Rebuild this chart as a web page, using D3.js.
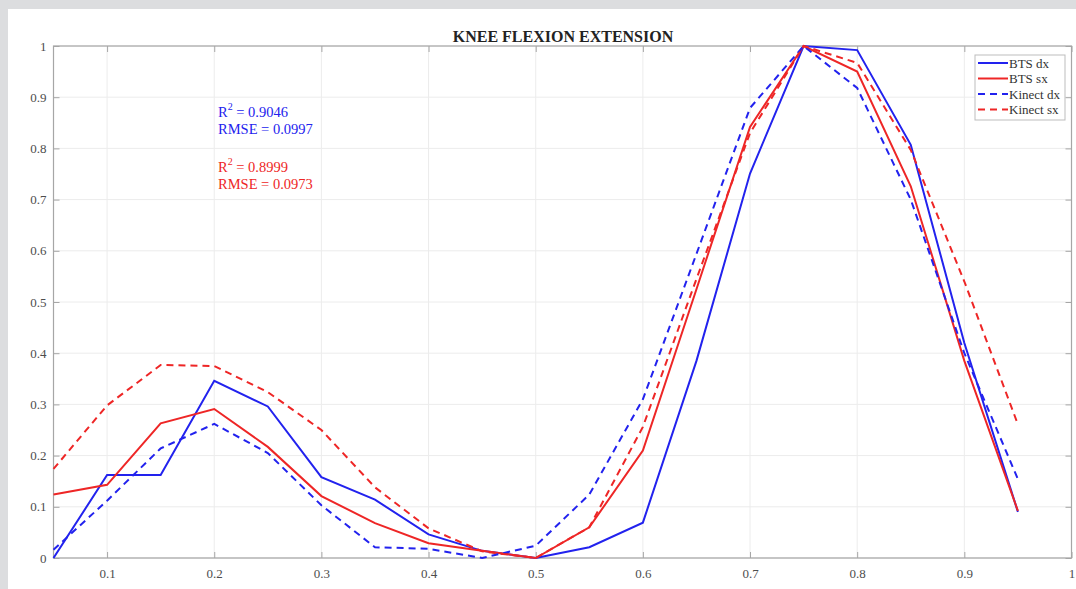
<!DOCTYPE html>
<html>
<head>
<meta charset="utf-8">
<script src="https://cdn.jsdelivr.net/npm/d3@7"></script>
<style>
  body { margin: 0; background: #dcdddf; }
  svg { display: block; }
</style>
</head>
<body>
<script>
// Data

var gaitCycle = [0.05, 0.1, 0.15, 0.2, 0.25, 0.3, 0.35, 0.4, 0.45, 0.5,
  0.55, 0.6, 0.65, 0.7, 0.75, 0.8, 0.85, 0.9, 0.95];

var btsDx = [0, 0.162, 0.162, 0.346, 0.296, 0.158, 0.114, 0.046, 0.014, 0,
  0.021, 0.069, 0.385, 0.751, 1, 0.992, 0.807, 0.42, 0.09];
var btsSx = [0.124, 0.143, 0.263, 0.291, 0.217, 0.121, 0.068, 0.029, 0.014, 0,
  0.06, 0.21, 0.525, 0.842, 1, 0.95, 0.726, 0.385, 0.092];
var kinectDx = [0.016, 0.112, 0.214, 0.262, 0.205, 0.103, 0.021, 0.018, 0, 0.024,
  0.124, 0.31, 0.594, 0.879, 1, 0.918, 0.7, 0.4, 0.154];
var kinectSx = [0.174, 0.298, 0.377, 0.375, 0.324, 0.25, 0.138, 0.058, 0.013, 0,
  0.06, 0.256, 0.545, 0.83, 1, 0.967, 0.797, 0.54, 0.261];

var seriesNames = ["BTS dx", "BTS sx", "Kinect dx", "Kinect sx"];
var xTicks = [0.1, 0.2, 0.3, 0.4, 0.5, 0.6, 0.7, 0.8, 0.9, 1];
var yTicks = [0, 0.1, 0.2, 0.3, 0.4, 0.5, 0.6, 0.7, 0.8, 0.9, 1];

var blue = "#2222ee";
var red = "#ee2626";

var series = [
  { name: seriesNames[0], values: btsDx, color: blue, dash: null },
  { name: seriesNames[1], values: btsSx, color: red, dash: null },
  { name: seriesNames[2], values: kinectDx, color: blue, dash: "7,5" },
  { name: seriesNames[3], values: kinectSx, color: red, dash: "7,5" }
];

var w = 1076;
var h = 589;
var font = "'Liberation Serif', 'Times New Roman', serif";

/*
-----SVG-----
*/
var svg = d3.select("body")
  .append("svg")
  .attr("width", w)
  .attr("height", h);

svg.append("rect")
  .attr("x", 8)
  .attr("y", 9)
  .attr("width", w - 8)
  .attr("height", h - 9)
  .attr("fill", "#fff");

var plotL = 53.5, plotR = 1071.5, plotT = 46, plotB = 558;

var x = d3.scaleLinear().domain([0.05, 1]).range([plotL, plotR]);
var y = d3.scaleLinear().domain([0, 1]).range([plotB, plotT]);

/*
----Grid----
*/
svg.append("g")
  .selectAll("line")
  .data(xTicks)
  .enter()
  .append("line")
  .attr("x1", function(d) { return x(d); })
  .attr("x2", function(d) { return x(d); })
  .attr("y1", plotT)
  .attr("y2", plotB)
  .attr("stroke", "#ececec");

svg.append("g")
  .selectAll("line")
  .data(yTicks)
  .enter()
  .append("line")
  .attr("x1", plotL)
  .attr("x2", plotR)
  .attr("y1", function(d) { return y(d); })
  .attr("y2", function(d) { return y(d); })
  .attr("stroke", "#ececec");

/*
----Axes----
*/
function styleAxis(g) {
  g.select(".domain").remove();
  g.selectAll(".tick line").attr("stroke", "#a6a6a6");
  g.selectAll(".tick text")
    .attr("fill", "#4d4d4d")
    .attr("font-family", font)
    .attr("font-size", 13);
}

svg.append("g")
  .attr("transform", "translate(0," + plotB + ")")
  .call(d3.axisBottom(x).tickValues(xTicks).tickSize(-6).tickPadding(11)
    .tickFormat(d3.format("")))
  .call(styleAxis);

svg.append("g")
  .attr("transform", "translate(0," + plotT + ")")
  .call(d3.axisTop(x).tickValues(xTicks).tickSize(-6).tickFormat(""))
  .call(styleAxis);

svg.append("g")
  .attr("transform", "translate(" + plotL + ",0)")
  .call(d3.axisLeft(y).tickValues(yTicks).tickSize(-6).tickPadding(7)
    .tickFormat(d3.format("")))
  .call(styleAxis);

svg.append("g")
  .attr("transform", "translate(" + plotR + ",0)")
  .call(d3.axisRight(y).tickValues(yTicks).tickSize(-6).tickFormat(""))
  .call(styleAxis);

svg.append("rect")
  .attr("x", plotL)
  .attr("y", plotT)
  .attr("width", plotR - plotL)
  .attr("height", plotB - plotT)
  .attr("fill", "none")
  .attr("stroke", "#a6a6a6")
  .attr("stroke-width", 1.2);

/*
----Lines----
*/
var line = d3.line()
  .x(function(d, i) { return x(gaitCycle[i]); })
  .y(function(d) { return y(d); });

svg.append("g")
  .selectAll("path")
  .data(series)
  .enter()
  .append("path")
  .attr("d", function(d) { return line(d.values); })
  .attr("fill", "none")
  .attr("stroke", function(d) { return d.color; })
  .attr("stroke-width", 2)
  .attr("stroke-dasharray", function(d) { return d.dash; });

/*
----Title----
*/
svg.append("text")
  .attr("x", 563)
  .attr("y", 42)
  .attr("text-anchor", "middle")
  .attr("font-family", font)
  .attr("font-weight", "bold")
  .attr("font-size", 16)
  .attr("fill", "#222")
  .text("KNEE FLEXION EXTENSION");

/*
----Annotations----
*/
var notes = [
  { lines: ["0.9046", "0.0997"], color: blue, y: 117 },
  { lines: ["0.8999", "0.0973"], color: red, y: 172 }
];

notes.forEach(function(n) {
  var t = svg.append("text")
    .attr("x", 218)
    .attr("y", n.y)
    .attr("font-family", font)
    .attr("font-size", 14.5)
    .attr("fill", n.color);
  t.append("tspan").text("R");
  t.append("tspan").attr("dy", -7).attr("font-size", 10).text("2");
  t.append("tspan").attr("dy", 7).text(" = " + n.lines[0]);

  svg.append("text")
    .attr("x", 218)
    .attr("y", n.y + 17)
    .attr("font-family", font)
    .attr("font-size", 14.5)
    .attr("fill", n.color)
    .text("RMSE = " + n.lines[1]);
});

/*
----Legend----
*/
var legend = svg.append("g");

legend.append("rect")
  .attr("x", 975)
  .attr("y", 55)
  .attr("width", 90)
  .attr("height", 65)
  .attr("fill", "#fff")
  .attr("stroke", "#bdbdbd");

var items = legend.selectAll("g.item")
  .data(series)
  .enter()
  .append("g")
  .attr("class", "item")
  .attr("transform", function(d, i) { return "translate(978," + (63 + i * 15.5) + ")"; });

items.append("line")
  .attr("x1", 0)
  .attr("x2", 30)
  .attr("stroke", function(d) { return d.color; })
  .attr("stroke-width", 2)
  .attr("stroke-dasharray", function(d) { return d.dash; });

items.append("text")
  .attr("x", 31)
  .attr("y", 4.5)
  .attr("font-family", font)
  .attr("font-size", 13)
  .attr("fill", "#333")
  .text(function(d) { return d.name; });
</script>
</body>
</html>
